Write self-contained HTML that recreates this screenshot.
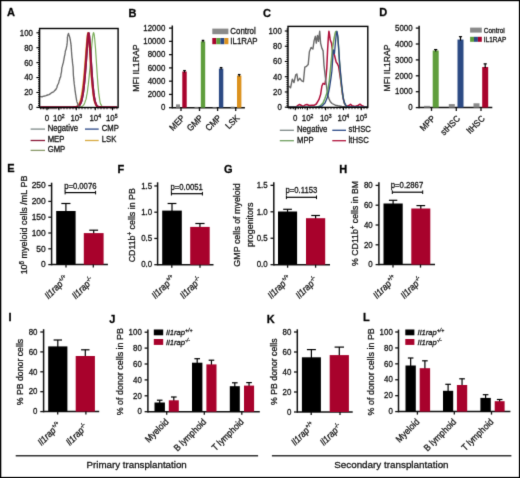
<!DOCTYPE html>
<html><head><meta charset="utf-8"><title>Figure</title>
<style>html,body{margin:0;padding:0;background:#fff;width:520px;height:478px;overflow:hidden;font-family:"Liberation Sans", sans-serif;}svg{display:block;}</style>
</head><body>
<svg width="520" height="478" viewBox="0 0 520 478" font-family='"Liberation Sans", sans-serif'>
<style>text{stroke:#111;stroke-width:0.28px;paint-order:stroke;}</style>
<defs><filter id="bl" x="0" y="0" width="520" height="478" filterUnits="userSpaceOnUse" color-interpolation-filters="sRGB"><feConvolveMatrix order="3" kernelMatrix="0.01134 0.08382 0.01134 0.08382 0.61935 0.08382 0.01134 0.08382 0.01134" edgeMode="duplicate" preserveAlpha="false"/></filter></defs>
<g filter="url(#bl)">
<rect x="0" y="0" width="520" height="478" fill="#fff"/>
<rect x="0" y="0" width="520" height="478" fill="#fff"/>
<text x="0" y="0" font-size="11" text-anchor="start" font-weight="bold" font-style="normal" fill="#000" transform="translate(7,16.4) scale(1,1)">A</text>
<polyline points="40.3,107.25 40.7,107.25 41.1,107.25 41.5,107.25 41.9,107.25 42.3,107.25 42.7,107.25 43.1,107.25 43.5,107.25 43.9,107.25 44.3,107.25 44.7,107.25 45.1,107.25 45.5,107.25 45.9,107.25 46.3,107.25 46.7,107.25 47.1,107.25 47.5,107.25 47.9,107.25 48.3,107.25 48.7,107.25 49.1,107.25 49.5,107.25 49.9,107.25 50.3,107.25 50.7,107.25 51.1,107.25 51.5,107.25 51.9,107.25 52.3,107.25 52.7,107.25 53.1,107.25 53.5,107.25 53.9,107.25 54.3,107.25 54.7,107.25 55.1,107.25 55.5,107.25 55.9,107.25 56.3,107.25 56.7,107.25 57.1,107.25 57.5,107.25 57.9,107.25 58.3,107.25 58.7,107.25 59.1,107.25 59.5,107.25 59.9,107.25 60.3,107.25 60.7,107.25 61.1,107.25 61.5,107.25 61.9,107.25 62.3,107.25 62.7,107.25 63.1,107.25 63.5,107.25 63.9,107.25 64.3,107.25 64.7,107.25 65.1,107.25 65.5,107.25 65.9,107.25 66.3,107.25 66.7,107.25 67.1,107.25 67.5,107.25 67.9,107.25 68.3,107.25 68.7,107.25 69.1,107.25 69.5,107.25 69.9,107.25 70.3,107.25 70.7,107.25 71.1,107.25 71.5,107.25 71.9,107.25 72.3,107.25 72.7,107.25 73.1,107.25 73.5,107.25 73.9,107.25 74.3,107.25 74.7,107.25 75.1,107.24 75.5,107.24 75.9,107.24 76.3,107.24 76.7,107.23 77.1,107.22 77.5,107.21 77.9,107.2 78.3,107.18 78.7,107.16 79.1,107.13 79.5,107.08 79.9,107.03 80.3,106.96 80.7,106.87 81.1,106.75 81.5,106.6 81.9,106.41 82.3,106.17 82.7,105.86 83.1,105.48 83.5,105.02 83.9,104.68 84.3,103.71 84.7,103.02 85.1,101.79 85.5,100.56 85.9,99.63 86.3,97.99 86.7,95.3 87.1,93.57 87.5,91.02 87.9,87.43 88.3,84.65 88.7,80.72 89.1,77.11 89.5,72.71 89.9,68.63 90.3,63.46 90.7,58.37 91.1,53.76 91.5,48.73 91.9,44.2 92.3,40.55 92.7,36.37 93.1,33.93 93.5,32.65 93.9,33.37 94.3,35.39 94.7,39.03 95.1,43.74 95.5,48.31 95.9,54.56 96.3,60.55 96.7,66.67 97.1,72.9 97.5,78.44 97.9,84.12 98.3,88.38 98.7,92.68 99.1,95.59 99.5,98.39 99.9,101.29 100.3,102.98 100.7,104.23 101.1,104.54 101.5,105.68 101.9,106.19 102.3,106.55 102.7,106.8 103.1,106.96 103.5,107.07 103.9,107.14 104.3,107.18 104.7,107.21 105.1,107.23 105.5,107.24 105.9,107.24 106.3,107.25 106.7,107.25 107.1,107.25 107.5,107.25 107.9,107.25 108.3,107.25 108.7,107.25 109.1,107.25 109.5,107.25 109.9,107.25 110.3,107.25 110.7,107.25 111.1,107.25 111.5,107.25 111.9,107.25 112.3,107.25 112.7,107.25 113.1,107.25 113.5,107.25 113.9,107.25 114.3,107.25 114.7,107.25 115.1,107.25 115.5,107.25 115.9,107.25 116.3,107.25 116.7,107.25 117.1,107.25" fill="none" stroke="#7cae5c" stroke-width="1.2" stroke-linejoin="round" stroke-opacity="1"/>
<polyline points="40.3,107.25 40.7,107.25 41.1,107.25 41.5,107.25 41.9,107.25 42.3,107.25 42.7,107.25 43.1,107.25 43.5,107.25 43.9,107.25 44.3,107.25 44.7,107.25 45.1,107.25 45.5,107.25 45.9,107.25 46.3,107.25 46.7,107.25 47.1,107.25 47.5,107.25 47.9,107.25 48.3,107.25 48.7,107.25 49.1,107.25 49.5,107.25 49.9,107.25 50.3,107.25 50.7,107.25 51.1,107.25 51.5,107.25 51.9,107.25 52.3,107.25 52.7,107.25 53.1,107.25 53.5,107.25 53.9,107.25 54.3,107.25 54.7,107.25 55.1,107.25 55.5,107.25 55.9,107.25 56.3,107.25 56.7,107.25 57.1,107.25 57.5,107.25 57.9,107.25 58.3,107.25 58.7,107.25 59.1,107.25 59.5,107.25 59.9,107.25 60.3,107.25 60.7,107.25 61.1,107.25 61.5,107.25 61.9,107.25 62.3,107.25 62.7,107.25 63.1,107.25 63.5,107.25 63.9,107.25 64.3,107.25 64.7,107.25 65.1,107.25 65.5,107.25 65.9,107.25 66.3,107.25 66.7,107.25 67.1,107.25 67.5,107.25 67.9,107.25 68.3,107.25 68.7,107.25 69.1,107.25 69.5,107.24 69.9,107.24 70.3,107.24 70.7,107.24 71.1,107.23 71.5,107.22 71.9,107.21 72.3,107.2 72.7,107.19 73.1,107.17 73.5,107.14 73.9,107.1 74.3,107.06 74.7,107 75.1,106.92 75.5,106.82 75.9,106.7 76.3,106.54 76.7,106.34 77.1,106.09 77.5,105.78 77.9,105.4 78.3,104.99 78.7,104.24 79.1,103.84 79.5,102.81 79.9,101.9 80.3,100.73 80.7,99.09 81.1,97.42 81.5,95.18 81.9,93.12 82.3,90.31 82.7,87.44 83.1,84.01 83.5,80.62 83.9,77.03 84.3,72.01 84.7,67.2 85.1,62.28 85.5,57.43 85.9,52.08 86.3,47.4 86.7,41.99 87.1,37.89 87.5,34.51 87.9,32.65 88.3,34.29 88.7,38.03 89.1,43.02 89.5,47.91 89.9,53.83 90.3,60.83 90.7,66.29 91.1,72.47 91.5,78.11 91.9,82.89 92.3,86.82 92.7,90.53 93.1,94.52 93.5,96.74 93.9,99.51 94.3,100.75 94.7,102.58 95.1,103.27 95.5,104.1 95.9,105.24 96.3,105.78 96.7,106.18 97.1,106.49 97.5,106.71 97.9,106.87 98.3,106.99 98.7,107.07 99.1,107.13 99.5,107.17 99.9,107.19 100.3,107.21 100.7,107.23 101.1,107.23 101.5,107.24 101.9,107.24 102.3,107.25 102.7,107.25 103.1,107.25 103.5,107.25 103.9,107.25 104.3,107.25 104.7,107.25 105.1,107.25 105.5,107.25 105.9,107.25 106.3,107.25 106.7,107.25 107.1,107.25 107.5,107.25 107.9,107.25 108.3,107.25 108.7,107.25 109.1,107.25 109.5,107.25 109.9,107.25 110.3,107.25 110.7,107.25 111.1,107.25 111.5,107.25 111.9,107.25 112.3,107.25 112.7,107.25 113.1,107.25 113.5,107.25 113.9,107.25 114.3,107.25 114.7,107.25 115.1,107.25 115.5,107.25 115.9,107.25 116.3,107.25 116.7,107.25 117.1,107.25" fill="none" stroke="#dd9a30" stroke-width="1.5" stroke-linejoin="round" stroke-opacity="1"/>
<polyline points="40.3,107.25 40.7,107.25 41.1,107.25 41.5,107.25 41.9,107.25 42.3,107.25 42.7,107.25 43.1,107.25 43.5,107.25 43.9,107.25 44.3,107.25 44.7,107.25 45.1,107.25 45.5,107.25 45.9,107.25 46.3,107.25 46.7,107.25 47.1,107.25 47.5,107.25 47.9,107.25 48.3,107.25 48.7,107.25 49.1,107.25 49.5,107.25 49.9,107.25 50.3,107.25 50.7,107.25 51.1,107.25 51.5,107.25 51.9,107.25 52.3,107.25 52.7,107.25 53.1,107.25 53.5,107.25 53.9,107.25 54.3,107.25 54.7,107.25 55.1,107.25 55.5,107.25 55.9,107.25 56.3,107.25 56.7,107.25 57.1,107.25 57.5,107.25 57.9,107.25 58.3,107.25 58.7,107.25 59.1,107.25 59.5,107.25 59.9,107.25 60.3,107.25 60.7,107.25 61.1,107.25 61.5,107.25 61.9,107.25 62.3,107.25 62.7,107.25 63.1,107.25 63.5,107.25 63.9,107.25 64.3,107.25 64.7,107.25 65.1,107.25 65.5,107.25 65.9,107.25 66.3,107.25 66.7,107.25 67.1,107.25 67.5,107.25 67.9,107.25 68.3,107.25 68.7,107.25 69.1,107.25 69.5,107.25 69.9,107.25 70.3,107.25 70.7,107.25 71.1,107.25 71.5,107.25 71.9,107.24 72.3,107.24 72.7,107.24 73.1,107.23 73.5,107.23 73.9,107.22 74.3,107.2 74.7,107.19 75.1,107.16 75.5,107.13 75.9,107.09 76.3,107.04 76.7,106.97 77.1,106.88 77.5,106.76 77.9,106.61 78.3,106.41 78.7,106.16 79.1,105.84 79.5,105.43 79.9,104.92 80.3,103.86 80.7,103.7 81.1,102.97 81.5,101.35 81.9,100.48 82.3,98.68 82.7,96.53 83.1,94.05 83.5,91.79 83.9,88.82 84.3,84.58 84.7,81.15 85.1,76.21 85.5,71.5 85.9,66.84 86.3,61.35 86.7,55.71 87.1,49.99 87.5,44.6 87.9,39.66 88.3,35.47 88.7,32.9 89.1,33.67 89.5,36.47 89.9,41.44 90.3,47 90.7,52.77 91.1,59.43 91.5,65.56 91.9,70.9 92.3,76.84 92.7,81.86 93.1,86.83 93.5,90.39 93.9,93.59 94.3,96.92 94.7,98.73 95.1,100.63 95.5,102.67 95.9,103.38 96.3,104.48 96.7,105.18 97.1,105.74 97.5,106.16 97.9,106.47 98.3,106.7 98.7,106.86 99.1,106.98 99.5,107.07 99.9,107.12 100.3,107.17 100.7,107.19 101.1,107.21 101.5,107.23 101.9,107.23 102.3,107.24 102.7,107.24 103.1,107.25 103.5,107.25 103.9,107.25 104.3,107.25 104.7,107.25 105.1,107.25 105.5,107.25 105.9,107.25 106.3,107.25 106.7,107.25 107.1,107.25 107.5,107.25 107.9,107.25 108.3,107.25 108.7,107.25 109.1,107.25 109.5,107.25 109.9,107.25 110.3,107.25 110.7,107.25 111.1,107.25 111.5,107.25 111.9,107.25 112.3,107.25 112.7,107.25 113.1,107.25 113.5,107.25 113.9,107.25 114.3,107.25 114.7,107.25 115.1,107.25 115.5,107.25 115.9,107.25 116.3,107.25 116.7,107.25 117.1,107.25" fill="none" stroke="#2d3f80" stroke-width="1.5" stroke-linejoin="round" stroke-opacity="1"/>
<polyline points="40.3,107.25 40.7,107.25 41.1,107.25 41.5,107.25 41.9,107.25 42.3,107.25 42.7,107.25 43.1,107.25 43.5,107.25 43.9,107.25 44.3,107.25 44.7,107.25 45.1,107.25 45.5,107.25 45.9,107.25 46.3,107.25 46.7,107.25 47.1,107.25 47.5,107.25 47.9,107.25 48.3,107.25 48.7,107.25 49.1,107.25 49.5,107.25 49.9,107.25 50.3,107.25 50.7,107.25 51.1,107.25 51.5,107.25 51.9,107.25 52.3,107.25 52.7,107.25 53.1,107.25 53.5,107.25 53.9,107.25 54.3,107.25 54.7,107.25 55.1,107.25 55.5,107.25 55.9,107.25 56.3,107.25 56.7,107.25 57.1,107.25 57.5,107.25 57.9,107.25 58.3,107.25 58.7,107.25 59.1,107.25 59.5,107.25 59.9,107.25 60.3,107.25 60.7,107.25 61.1,107.25 61.5,107.25 61.9,107.25 62.3,107.25 62.7,107.25 63.1,107.25 63.5,107.25 63.9,107.25 64.3,107.25 64.7,107.25 65.1,107.25 65.5,107.25 65.9,107.25 66.3,107.25 66.7,107.25 67.1,107.25 67.5,107.25 67.9,107.25 68.3,107.25 68.7,107.25 69.1,107.25 69.5,107.25 69.9,107.25 70.3,107.25 70.7,107.25 71.1,107.25 71.5,107.24 71.9,107.24 72.3,107.24 72.7,107.23 73.1,107.23 73.5,107.22 73.9,107.2 74.3,107.19 74.7,107.16 75.1,107.13 75.5,107.09 75.9,107.04 76.3,106.97 76.7,106.88 77.1,106.76 77.5,106.61 77.9,106.42 78.3,106.17 78.7,105.86 79.1,105.46 79.5,104.81 79.9,104.49 80.3,103.42 80.7,102.48 81.1,102 81.5,100.62 81.9,98.46 82.3,96.3 82.7,94.71 83.1,91.93 83.5,88.82 83.9,85.66 84.3,81.8 84.7,77.59 85.1,72.88 85.5,67.65 85.9,62.59 86.3,57 86.7,51.07 87.1,46.29 87.5,40.74 87.9,36.25 88.3,33.36 88.7,33.16 89.1,36.09 89.5,40.45 89.9,45.23 90.3,51.66 90.7,57.92 91.1,63.91 91.5,69.69 91.9,75.88 92.3,80.85 92.7,85.47 93.1,89.08 93.5,92.93 93.9,95.51 94.3,98.59 94.7,100.45 95.1,101.79 95.5,102.87 95.9,104.27 96.3,105.01 96.7,105.61 97.1,106.06 97.5,106.4 97.9,106.65 98.3,106.83 98.7,106.96 99.1,107.05 99.5,107.11 99.9,107.16 100.3,107.19 100.7,107.21 101.1,107.22 101.5,107.23 101.9,107.24 102.3,107.24 102.7,107.25 103.1,107.25 103.5,107.25 103.9,107.25 104.3,107.25 104.7,107.25 105.1,107.25 105.5,107.25 105.9,107.25 106.3,107.25 106.7,107.25 107.1,107.25 107.5,107.25 107.9,107.25 108.3,107.25 108.7,107.25 109.1,107.25 109.5,107.25 109.9,107.25 110.3,107.25 110.7,107.25 111.1,107.25 111.5,107.25 111.9,107.25 112.3,107.25 112.7,107.25 113.1,107.25 113.5,107.25 113.9,107.25 114.3,107.25 114.7,107.25 115.1,107.25 115.5,107.25 115.9,107.25 116.3,107.25 116.7,107.25 117.1,107.25" fill="none" stroke="#a0103a" stroke-width="2.2" stroke-linejoin="round" stroke-opacity="1"/>
<polyline points="40.2,97 41,96.5 42,97 43,96.3 44.5,96 46,95.6 47.5,95 49,94.6 50.5,93.7 51.25,92.91 52,92.5 53,92.2 54,91.5 54.7,90.28 55.4,90 56.1,89 56.9,87.5 57.25,85.78 57.6,85 58.1,84.04 58.6,83 58.85,81.98 59.1,80.76 59.35,80.38 59.6,79.5 60.1,77.74 60.6,77 60.77,75.93 60.93,74.53 61.1,73.55 61.27,72.92 61.43,72.36 61.6,71 61.67,69.66 61.75,68.85 61.83,68.37 61.9,67.3 62.23,66.74 62.55,65.28 62.88,64.04 63.2,63.1 63.4,62.57 63.6,60.5 63.8,60.34 64,58.9 64.22,57.64 64.45,56.46 64.67,55.4 64.9,54.8 65.03,53.46 65.17,52.88 65.3,51.4 65.65,50.2 66,49.7 66.3,48.1 66.53,47.06 66.77,45.99 67,44.7 67.1,43.51 67.2,42.65 67.3,41.07 67.4,40.5 67.4,38.92 67.4,37.98 67.4,37.2 67.7,36.15 68,34.7 68.5,33.4 68.9,34.7 69.3,35.87 69.7,37.2 69.93,38.1 70.17,39.49 70.4,40.5 70.55,41.5 70.7,42.38 70.85,43.97 71,44.7 71.08,45.92 71.16,46.42 71.24,47.78 71.32,48.73 71.4,49.7 71.47,51.1 71.53,51.92 71.6,52.42 71.67,54.16 71.73,54.2 71.8,55.6 71.9,56.48 72,57.82 72.1,58.12 72.2,59.45 72.3,59.93 72.4,61.4 72.52,62.57 72.63,63.66 72.75,64.43 72.87,65.75 72.98,66.11 73.1,67.3 73.14,68.5 73.17,69.38 73.21,70.35 73.25,71.2 73.29,72.61 73.33,73.71 73.36,74.18 73.4,75.2 73.49,76.3 73.58,76.56 73.67,78.18 73.76,79.04 73.85,80.34 73.94,81.07 74.03,81.4 74.12,82.43 74.21,83.67 74.3,84.4 74.41,84.79 74.53,86.18 74.64,86.77 74.75,87.63 74.86,88.48 74.97,90.17 75.09,90.38 75.2,91.7 75.35,92.36 75.5,93.45 75.65,94.91 75.8,94.97 75.95,96.31 76.1,97.3 76.28,98.27 76.46,99.56 76.64,100.41 76.82,101.38 77,101.9 77.33,102.72 77.67,103.94 78,105.1 78.9,106.3 80,107" fill="none" stroke="#6a6a6a" stroke-width="1.35" stroke-linejoin="round" stroke-opacity="1"/>
<rect x="39.6" y="28.5" width="78.5" height="79" fill="none" stroke="#000" stroke-width="1.4"/>
<line x1="38" y1="107.4" x2="39.6" y2="107.4" stroke="#000" stroke-width="0.9"/>
<line x1="38" y1="105.54" x2="39.6" y2="105.54" stroke="#000" stroke-width="0.9"/>
<line x1="38" y1="103.67" x2="39.6" y2="103.67" stroke="#000" stroke-width="0.9"/>
<line x1="38" y1="101.81" x2="39.6" y2="101.81" stroke="#000" stroke-width="0.9"/>
<line x1="38" y1="99.94" x2="39.6" y2="99.94" stroke="#000" stroke-width="0.9"/>
<line x1="38" y1="98.08" x2="39.6" y2="98.08" stroke="#000" stroke-width="0.9"/>
<line x1="38" y1="96.21" x2="39.6" y2="96.21" stroke="#000" stroke-width="0.9"/>
<line x1="38" y1="94.34" x2="39.6" y2="94.34" stroke="#000" stroke-width="0.9"/>
<line x1="38" y1="92.48" x2="39.6" y2="92.48" stroke="#000" stroke-width="0.9"/>
<line x1="38" y1="90.62" x2="39.6" y2="90.62" stroke="#000" stroke-width="0.9"/>
<line x1="38" y1="88.75" x2="39.6" y2="88.75" stroke="#000" stroke-width="0.9"/>
<line x1="38" y1="86.89" x2="39.6" y2="86.89" stroke="#000" stroke-width="0.9"/>
<line x1="38" y1="85.02" x2="39.6" y2="85.02" stroke="#000" stroke-width="0.9"/>
<line x1="38" y1="83.16" x2="39.6" y2="83.16" stroke="#000" stroke-width="0.9"/>
<line x1="38" y1="81.29" x2="39.6" y2="81.29" stroke="#000" stroke-width="0.9"/>
<line x1="38" y1="79.43" x2="39.6" y2="79.43" stroke="#000" stroke-width="0.9"/>
<line x1="38" y1="77.56" x2="39.6" y2="77.56" stroke="#000" stroke-width="0.9"/>
<line x1="38" y1="75.7" x2="39.6" y2="75.7" stroke="#000" stroke-width="0.9"/>
<line x1="38" y1="73.83" x2="39.6" y2="73.83" stroke="#000" stroke-width="0.9"/>
<line x1="38" y1="71.97" x2="39.6" y2="71.97" stroke="#000" stroke-width="0.9"/>
<line x1="38" y1="70.1" x2="39.6" y2="70.1" stroke="#000" stroke-width="0.9"/>
<line x1="38" y1="68.24" x2="39.6" y2="68.24" stroke="#000" stroke-width="0.9"/>
<line x1="38" y1="66.37" x2="39.6" y2="66.37" stroke="#000" stroke-width="0.9"/>
<line x1="38" y1="64.5" x2="39.6" y2="64.5" stroke="#000" stroke-width="0.9"/>
<line x1="38" y1="62.64" x2="39.6" y2="62.64" stroke="#000" stroke-width="0.9"/>
<line x1="38" y1="60.78" x2="39.6" y2="60.78" stroke="#000" stroke-width="0.9"/>
<line x1="38" y1="58.91" x2="39.6" y2="58.91" stroke="#000" stroke-width="0.9"/>
<line x1="38" y1="57.05" x2="39.6" y2="57.05" stroke="#000" stroke-width="0.9"/>
<line x1="38" y1="55.18" x2="39.6" y2="55.18" stroke="#000" stroke-width="0.9"/>
<line x1="38" y1="53.32" x2="39.6" y2="53.32" stroke="#000" stroke-width="0.9"/>
<line x1="38" y1="51.45" x2="39.6" y2="51.45" stroke="#000" stroke-width="0.9"/>
<line x1="38" y1="49.59" x2="39.6" y2="49.59" stroke="#000" stroke-width="0.9"/>
<line x1="38" y1="47.72" x2="39.6" y2="47.72" stroke="#000" stroke-width="0.9"/>
<line x1="38" y1="45.86" x2="39.6" y2="45.86" stroke="#000" stroke-width="0.9"/>
<line x1="38" y1="43.99" x2="39.6" y2="43.99" stroke="#000" stroke-width="0.9"/>
<line x1="38" y1="42.12" x2="39.6" y2="42.12" stroke="#000" stroke-width="0.9"/>
<line x1="38" y1="40.26" x2="39.6" y2="40.26" stroke="#000" stroke-width="0.9"/>
<line x1="38" y1="38.4" x2="39.6" y2="38.4" stroke="#000" stroke-width="0.9"/>
<line x1="38" y1="36.53" x2="39.6" y2="36.53" stroke="#000" stroke-width="0.9"/>
<line x1="38" y1="34.67" x2="39.6" y2="34.67" stroke="#000" stroke-width="0.9"/>
<line x1="38" y1="32.8" x2="39.6" y2="32.8" stroke="#000" stroke-width="0.9"/>
<line x1="38" y1="30.94" x2="39.6" y2="30.94" stroke="#000" stroke-width="0.9"/>
<line x1="36.4" y1="107.4" x2="39.6" y2="107.4" stroke="#000" stroke-width="1.1"/>
<text x="0" y="0" font-size="8.6" text-anchor="end" font-weight="normal" font-style="normal" fill="#111" transform="translate(33,110.3) scale(0.92,1)">0</text>
<line x1="36.4" y1="92.48" x2="39.6" y2="92.48" stroke="#000" stroke-width="1.1"/>
<text x="0" y="0" font-size="8.6" text-anchor="end" font-weight="normal" font-style="normal" fill="#111" transform="translate(33,95.38) scale(0.92,1)">20</text>
<line x1="36.4" y1="77.56" x2="39.6" y2="77.56" stroke="#000" stroke-width="1.1"/>
<text x="0" y="0" font-size="8.6" text-anchor="end" font-weight="normal" font-style="normal" fill="#111" transform="translate(33,80.46) scale(0.92,1)">40</text>
<line x1="36.4" y1="62.64" x2="39.6" y2="62.64" stroke="#000" stroke-width="1.1"/>
<text x="0" y="0" font-size="8.6" text-anchor="end" font-weight="normal" font-style="normal" fill="#111" transform="translate(33,65.54) scale(0.92,1)">60</text>
<line x1="36.4" y1="47.72" x2="39.6" y2="47.72" stroke="#000" stroke-width="1.1"/>
<text x="0" y="0" font-size="8.6" text-anchor="end" font-weight="normal" font-style="normal" fill="#111" transform="translate(33,50.62) scale(0.92,1)">80</text>
<line x1="36.4" y1="32.8" x2="39.6" y2="32.8" stroke="#000" stroke-width="1.1"/>
<text x="0" y="0" font-size="8.6" text-anchor="end" font-weight="normal" font-style="normal" fill="#111" transform="translate(33,35.7) scale(0.92,1)">100</text>
<line x1="40.5" y1="107.5" x2="40.5" y2="109.3" stroke="#000" stroke-width="0.8"/>
<line x1="42" y1="107.5" x2="42" y2="109.3" stroke="#000" stroke-width="0.8"/>
<line x1="43.5" y1="107.5" x2="43.5" y2="109.3" stroke="#000" stroke-width="0.8"/>
<line x1="45" y1="107.5" x2="45" y2="109.3" stroke="#000" stroke-width="0.8"/>
<line x1="47" y1="107.5" x2="47" y2="109.3" stroke="#000" stroke-width="0.8"/>
<line x1="48.5" y1="107.5" x2="48.5" y2="109.3" stroke="#000" stroke-width="0.8"/>
<line x1="50" y1="107.5" x2="50" y2="109.3" stroke="#000" stroke-width="0.8"/>
<line x1="52" y1="107.5" x2="52" y2="109.3" stroke="#000" stroke-width="0.8"/>
<line x1="54" y1="107.5" x2="54" y2="109.3" stroke="#000" stroke-width="0.8"/>
<line x1="56" y1="107.5" x2="56" y2="109.3" stroke="#000" stroke-width="0.8"/>
<line x1="58.5" y1="107.5" x2="58.5" y2="109.3" stroke="#000" stroke-width="0.8"/>
<line x1="61" y1="107.5" x2="61" y2="109.3" stroke="#000" stroke-width="0.8"/>
<line x1="64" y1="107.5" x2="64" y2="109.3" stroke="#000" stroke-width="0.8"/>
<line x1="67" y1="107.5" x2="67" y2="109.3" stroke="#000" stroke-width="0.8"/>
<line x1="70" y1="107.5" x2="70" y2="109.3" stroke="#000" stroke-width="0.8"/>
<line x1="73" y1="107.5" x2="73" y2="109.3" stroke="#000" stroke-width="0.8"/>
<line x1="76" y1="107.5" x2="76" y2="109.3" stroke="#000" stroke-width="0.8"/>
<line x1="79" y1="107.5" x2="79" y2="109.3" stroke="#000" stroke-width="0.8"/>
<line x1="82" y1="107.5" x2="82" y2="109.3" stroke="#000" stroke-width="0.8"/>
<line x1="85" y1="107.5" x2="85" y2="109.3" stroke="#000" stroke-width="0.8"/>
<line x1="88" y1="107.5" x2="88" y2="109.3" stroke="#000" stroke-width="0.8"/>
<line x1="91" y1="107.5" x2="91" y2="109.3" stroke="#000" stroke-width="0.8"/>
<line x1="95" y1="107.5" x2="95" y2="109.3" stroke="#000" stroke-width="0.8"/>
<line x1="98" y1="107.5" x2="98" y2="109.3" stroke="#000" stroke-width="0.8"/>
<line x1="101" y1="107.5" x2="101" y2="109.3" stroke="#000" stroke-width="0.8"/>
<line x1="104" y1="107.5" x2="104" y2="109.3" stroke="#000" stroke-width="0.8"/>
<line x1="107" y1="107.5" x2="107" y2="109.3" stroke="#000" stroke-width="0.8"/>
<line x1="111" y1="107.5" x2="111" y2="109.3" stroke="#000" stroke-width="0.8"/>
<line x1="114" y1="107.5" x2="114" y2="109.3" stroke="#000" stroke-width="0.8"/>
<line x1="117" y1="107.5" x2="117" y2="109.3" stroke="#000" stroke-width="0.8"/>
<line x1="47" y1="107.5" x2="47" y2="110.3" stroke="#000" stroke-width="1.1"/>
<line x1="58.9" y1="107.5" x2="58.9" y2="110.3" stroke="#000" stroke-width="1.1"/>
<line x1="76.3" y1="107.5" x2="76.3" y2="110.3" stroke="#000" stroke-width="1.1"/>
<line x1="95.3" y1="107.5" x2="95.3" y2="110.3" stroke="#000" stroke-width="1.1"/>
<line x1="112.5" y1="107.5" x2="112.5" y2="110.3" stroke="#000" stroke-width="1.1"/>
<text x="0" y="0" font-size="8.6" text-anchor="middle" font-weight="normal" font-style="normal" fill="#111" transform="translate(47,120.5) scale(0.92,1)">0</text>
<text x="0" y="0" font-size="8.6" text-anchor="middle" fill="#111" transform="translate(58.9,120.5) scale(0.92,1)">10<tspan font-size="5.59" dy="-3">2</tspan></text>
<text x="0" y="0" font-size="8.6" text-anchor="middle" fill="#111" transform="translate(76.3,120.5) scale(0.92,1)">10<tspan font-size="5.59" dy="-3">3</tspan></text>
<text x="0" y="0" font-size="8.6" text-anchor="middle" fill="#111" transform="translate(95.2,120.5) scale(0.92,1)">10<tspan font-size="5.59" dy="-3">4</tspan></text>
<text x="0" y="0" font-size="8.6" text-anchor="middle" fill="#111" transform="translate(111.8,120.5) scale(0.92,1)">10<tspan font-size="5.59" dy="-3">5</tspan></text>
<line x1="30.6" y1="129.1" x2="45" y2="129.1" stroke="#7f8a88" stroke-width="1.3"/>
<text x="0" y="0" font-size="8.38" text-anchor="start" font-weight="normal" font-style="normal" fill="#111" transform="translate(47.7,131.3) scale(0.92,1)">Negative</text>
<line x1="85" y1="129.1" x2="98.7" y2="129.1" stroke="#2d4a88" stroke-width="1.3"/>
<text x="0" y="0" font-size="8.38" text-anchor="start" font-weight="normal" font-style="normal" fill="#111" transform="translate(101.8,131.3) scale(0.92,1)">CMP</text>
<line x1="30.6" y1="140.5" x2="45" y2="140.5" stroke="#8a1838" stroke-width="1.3"/>
<text x="0" y="0" font-size="8.38" text-anchor="start" font-weight="normal" font-style="normal" fill="#111" transform="translate(47.7,142.4) scale(0.92,1)">MEP</text>
<line x1="85" y1="140.5" x2="98.7" y2="140.5" stroke="#d8aa40" stroke-width="1.3"/>
<text x="0" y="0" font-size="8.38" text-anchor="start" font-weight="normal" font-style="normal" fill="#111" transform="translate(101.8,142.4) scale(0.92,1)">LSK</text>
<line x1="30.6" y1="150.4" x2="45" y2="150.4" stroke="#8a9a6a" stroke-width="1.3"/>
<text x="0" y="0" font-size="8.38" text-anchor="start" font-weight="normal" font-style="normal" fill="#111" transform="translate(47.7,152.3) scale(0.92,1)">GMP</text>
<text x="0" y="0" font-size="11" text-anchor="start" font-weight="bold" font-style="normal" fill="#000" transform="translate(128.4,17.1) scale(1,1)">B</text>
<line x1="172.3" y1="25.5" x2="172.3" y2="108.4" stroke="#111" stroke-width="1.5"/>
<line x1="172.3" y1="107.7" x2="244.9" y2="107.7" stroke="#111" stroke-width="1.5"/>
<line x1="169" y1="107.7" x2="172.3" y2="107.7" stroke="#111" stroke-width="1.3"/>
<text x="0" y="0" font-size="8.6" text-anchor="end" font-weight="normal" font-style="normal" fill="#111" transform="translate(165.3,110.4) scale(0.92,1)">0</text>
<line x1="169" y1="94.43" x2="172.3" y2="94.43" stroke="#111" stroke-width="1.3"/>
<text x="0" y="0" font-size="8.6" text-anchor="end" font-weight="normal" font-style="normal" fill="#111" transform="translate(165.3,97.13) scale(0.92,1)">2000</text>
<line x1="169" y1="81.17" x2="172.3" y2="81.17" stroke="#111" stroke-width="1.3"/>
<text x="0" y="0" font-size="8.6" text-anchor="end" font-weight="normal" font-style="normal" fill="#111" transform="translate(165.3,83.87) scale(0.92,1)">4000</text>
<line x1="169" y1="67.9" x2="172.3" y2="67.9" stroke="#111" stroke-width="1.3"/>
<text x="0" y="0" font-size="8.6" text-anchor="end" font-weight="normal" font-style="normal" fill="#111" transform="translate(165.3,70.6) scale(0.92,1)">6000</text>
<line x1="169" y1="54.63" x2="172.3" y2="54.63" stroke="#111" stroke-width="1.3"/>
<text x="0" y="0" font-size="8.6" text-anchor="end" font-weight="normal" font-style="normal" fill="#111" transform="translate(165.3,57.33) scale(0.92,1)">8000</text>
<line x1="169" y1="41.37" x2="172.3" y2="41.37" stroke="#111" stroke-width="1.3"/>
<text x="0" y="0" font-size="8.6" text-anchor="end" font-weight="normal" font-style="normal" fill="#111" transform="translate(165.3,44.07) scale(0.92,1)">10000</text>
<line x1="169" y1="28.1" x2="172.3" y2="28.1" stroke="#111" stroke-width="1.3"/>
<text x="0" y="0" font-size="8.6" text-anchor="end" font-weight="normal" font-style="normal" fill="#111" transform="translate(165.3,30.8) scale(0.92,1)">12000</text>
<rect x="176" y="104.38" width="4" height="3.32" fill="#8a8a8a"/>
<rect x="182.3" y="71.55" width="4.4" height="36.15" fill="#a8022c"/>
<line x1="184.5" y1="70.55" x2="184.5" y2="72.55" stroke="#000" stroke-width="1.2"/>
<line x1="183.2" y1="70.55" x2="185.8" y2="70.55" stroke="#000" stroke-width="1.2"/>
<line x1="181" y1="107.7" x2="181" y2="111" stroke="#111" stroke-width="1.3"/>
<rect x="194.5" y="106.9" width="4" height="0.8" fill="#8a8a8a"/>
<rect x="200.8" y="41.37" width="4.4" height="66.33" fill="#5f9e3c"/>
<line x1="203" y1="40.37" x2="203" y2="42.37" stroke="#000" stroke-width="1.2"/>
<line x1="201.7" y1="40.37" x2="204.3" y2="40.37" stroke="#000" stroke-width="1.2"/>
<line x1="199.5" y1="107.7" x2="199.5" y2="111" stroke="#111" stroke-width="1.3"/>
<rect x="212.6" y="107.04" width="4" height="0.66" fill="#8a8a8a"/>
<rect x="218.9" y="68.56" width="4.4" height="39.14" fill="#2c4a84"/>
<line x1="221.1" y1="67.56" x2="221.1" y2="69.56" stroke="#000" stroke-width="1.2"/>
<line x1="219.8" y1="67.56" x2="222.4" y2="67.56" stroke="#000" stroke-width="1.2"/>
<line x1="217.6" y1="107.7" x2="217.6" y2="111" stroke="#111" stroke-width="1.3"/>
<rect x="230.7" y="106.7" width="4" height="1" fill="#8a8a8a"/>
<rect x="237" y="75.53" width="4.4" height="32.17" fill="#dc921e"/>
<line x1="239.2" y1="74.53" x2="239.2" y2="76.53" stroke="#000" stroke-width="1.2"/>
<line x1="237.9" y1="74.53" x2="240.5" y2="74.53" stroke="#000" stroke-width="1.2"/>
<line x1="235.7" y1="107.7" x2="235.7" y2="111" stroke="#111" stroke-width="1.3"/>
<text x="0" y="0" font-size="9.02" text-anchor="end" fill="#111" transform="translate(185.5,118.6) rotate(-45) scale(0.91,1)">MEP</text>
<text x="0" y="0" font-size="9.02" text-anchor="end" fill="#111" transform="translate(203.7,118.6) rotate(-45) scale(0.91,1)">GMP</text>
<text x="0" y="0" font-size="9.02" text-anchor="end" fill="#111" transform="translate(221.9,118.6) rotate(-45) scale(0.91,1)">CMP</text>
<text x="0" y="0" font-size="9.02" text-anchor="end" fill="#111" transform="translate(240,118.6) rotate(-45) scale(0.91,1)">LSK</text>
<text x="0" y="0" font-size="9.4" text-anchor="middle" fill="#111" transform="translate(139.08,68.1) rotate(-90) scale(0.93,1)">MFI IL1RAP</text>
<rect x="212.3" y="28.6" width="16.1" height="5.6" fill="#8a8a8a"/>
<rect x="212.3" y="38" width="4.03" height="6.2" fill="#a8022c"/>
<rect x="216.33" y="38" width="4.03" height="6.2" fill="#5f9e3c"/>
<rect x="220.36" y="38" width="4.03" height="6.2" fill="#2c4a84"/>
<rect x="224.39" y="38" width="4.03" height="6.2" fill="#dc921e"/>
<text x="0" y="0" font-size="8.6" text-anchor="start" font-weight="normal" font-style="normal" fill="#111" transform="translate(230.3,34.2) scale(0.92,1)">Control</text>
<text x="0" y="0" font-size="8.6" text-anchor="start" font-weight="normal" font-style="normal" fill="#111" transform="translate(230.3,44.2) scale(0.92,1)">IL1RAP</text>
<text x="0" y="0" font-size="11" text-anchor="start" font-weight="bold" font-style="normal" fill="#000" transform="translate(263,17.1) scale(1,1)">C</text>
<polyline points="288.6,107 296,107 298,105.3 299.5,104.5 301,105.2 303,106.5 305,105 307,104.5 309,105.5 312,105.2 314,105.3 316.3,104 318.9,99.7 320.6,94.6 321.9,86 323.1,83.4 324.9,84.3 325.9,78 326.8,68 327.6,50 328.3,38 328.9,31.2 329.6,35 330.2,39.8 331.5,43.2 332.7,51.8 334.5,55.2 336.2,62.1 337.4,63.8 338.6,66.5 339.9,75 340.9,82 342.5,94.5 344.2,102.8 345.8,105.6 347,106.2 349,105.5 350.5,104.3 352,105.6 355,106.5 358,105.5 360,104.2 362,105.8 364,106.5 367.3,107" fill="none" stroke="#b0123c" stroke-width="1.5" stroke-linejoin="round" stroke-opacity="1"/>
<polyline points="288.6,86 290.6,87.7 292.3,79.1 294,82.6 295.7,74.9 296.9,74 297.9,80.9 299.7,78.3 301.7,80.9 303.4,81.7 304.8,67.1 306.5,66.3 308.2,64.6 309.4,51.7 311.1,47.4 312.9,49.1 314.1,40.6 315.4,36.3 316.3,43.1 317.5,35.4 318.5,41.4 319.7,31.3 320.6,43.1 321.9,48.3 323.1,50.9 324,65.4 325.2,76 326.2,84 327.6,94.8 329.1,99 330.2,101.6 332,103.5 335.3,105.2 338,105.8 342,106.5 346,107" fill="none" stroke="#6a6a6a" stroke-width="1.4" stroke-linejoin="round" stroke-opacity="1"/>
<polyline points="288.6,107.2 316,107.1 319,106.5 321,105 323,103 325,98.2 327.6,91.3 329.3,81 331,63.8 332.7,46.6 334.5,36.3 335.5,32 336.2,31.3 337.2,34 337.9,38 338.6,48 339.3,60.4 340.9,81 342.6,94.8 344.4,103.4 346.5,106.3 348,107 367.3,107.2" fill="none" stroke="#6aa45a" stroke-width="1.5" stroke-linejoin="round" stroke-opacity="1"/>
<polyline points="330,80 331.5,60 333,44 334.8,34 336,32.5 337.5,37 339,54 340.5,72 342.3,90 344,101 346,106" fill="none" stroke="#b0b050" stroke-width="0.6" stroke-linejoin="round" stroke-opacity="0.6"/>
<polyline points="288.6,107.2 318,107.1 322,106 325,103 327.5,97 329.5,88 331,78 331.9,71 333.3,50 334.5,53.5 335.3,44 336.2,35 337,31.3 337.8,36 338.8,50 339.6,62 340.2,69 341.8,86 343.5,100 345.5,105 347,106.6 367.3,107.2" fill="none" stroke="#2b4580" stroke-width="1.3" stroke-linejoin="round" stroke-opacity="1"/>
<rect x="288" y="26.4" width="79.8" height="81" fill="none" stroke="#000" stroke-width="1.4"/>
<line x1="286.4" y1="107.2" x2="288" y2="107.2" stroke="#000" stroke-width="0.9"/>
<line x1="286.4" y1="105.3" x2="288" y2="105.3" stroke="#000" stroke-width="0.9"/>
<line x1="286.4" y1="103.39" x2="288" y2="103.39" stroke="#000" stroke-width="0.9"/>
<line x1="286.4" y1="101.48" x2="288" y2="101.48" stroke="#000" stroke-width="0.9"/>
<line x1="286.4" y1="99.58" x2="288" y2="99.58" stroke="#000" stroke-width="0.9"/>
<line x1="286.4" y1="97.67" x2="288" y2="97.67" stroke="#000" stroke-width="0.9"/>
<line x1="286.4" y1="95.77" x2="288" y2="95.77" stroke="#000" stroke-width="0.9"/>
<line x1="286.4" y1="93.87" x2="288" y2="93.87" stroke="#000" stroke-width="0.9"/>
<line x1="286.4" y1="91.96" x2="288" y2="91.96" stroke="#000" stroke-width="0.9"/>
<line x1="286.4" y1="90.06" x2="288" y2="90.06" stroke="#000" stroke-width="0.9"/>
<line x1="286.4" y1="88.15" x2="288" y2="88.15" stroke="#000" stroke-width="0.9"/>
<line x1="286.4" y1="86.25" x2="288" y2="86.25" stroke="#000" stroke-width="0.9"/>
<line x1="286.4" y1="84.34" x2="288" y2="84.34" stroke="#000" stroke-width="0.9"/>
<line x1="286.4" y1="82.44" x2="288" y2="82.44" stroke="#000" stroke-width="0.9"/>
<line x1="286.4" y1="80.53" x2="288" y2="80.53" stroke="#000" stroke-width="0.9"/>
<line x1="286.4" y1="78.62" x2="288" y2="78.62" stroke="#000" stroke-width="0.9"/>
<line x1="286.4" y1="76.72" x2="288" y2="76.72" stroke="#000" stroke-width="0.9"/>
<line x1="286.4" y1="74.81" x2="288" y2="74.81" stroke="#000" stroke-width="0.9"/>
<line x1="286.4" y1="72.91" x2="288" y2="72.91" stroke="#000" stroke-width="0.9"/>
<line x1="286.4" y1="71" x2="288" y2="71" stroke="#000" stroke-width="0.9"/>
<line x1="286.4" y1="69.1" x2="288" y2="69.1" stroke="#000" stroke-width="0.9"/>
<line x1="286.4" y1="67.19" x2="288" y2="67.19" stroke="#000" stroke-width="0.9"/>
<line x1="286.4" y1="65.29" x2="288" y2="65.29" stroke="#000" stroke-width="0.9"/>
<line x1="286.4" y1="63.39" x2="288" y2="63.39" stroke="#000" stroke-width="0.9"/>
<line x1="286.4" y1="61.48" x2="288" y2="61.48" stroke="#000" stroke-width="0.9"/>
<line x1="286.4" y1="59.58" x2="288" y2="59.58" stroke="#000" stroke-width="0.9"/>
<line x1="286.4" y1="57.67" x2="288" y2="57.67" stroke="#000" stroke-width="0.9"/>
<line x1="286.4" y1="55.77" x2="288" y2="55.77" stroke="#000" stroke-width="0.9"/>
<line x1="286.4" y1="53.86" x2="288" y2="53.86" stroke="#000" stroke-width="0.9"/>
<line x1="286.4" y1="51.96" x2="288" y2="51.96" stroke="#000" stroke-width="0.9"/>
<line x1="286.4" y1="50.05" x2="288" y2="50.05" stroke="#000" stroke-width="0.9"/>
<line x1="286.4" y1="48.15" x2="288" y2="48.15" stroke="#000" stroke-width="0.9"/>
<line x1="286.4" y1="46.24" x2="288" y2="46.24" stroke="#000" stroke-width="0.9"/>
<line x1="286.4" y1="44.34" x2="288" y2="44.34" stroke="#000" stroke-width="0.9"/>
<line x1="286.4" y1="42.43" x2="288" y2="42.43" stroke="#000" stroke-width="0.9"/>
<line x1="286.4" y1="40.53" x2="288" y2="40.53" stroke="#000" stroke-width="0.9"/>
<line x1="286.4" y1="38.62" x2="288" y2="38.62" stroke="#000" stroke-width="0.9"/>
<line x1="286.4" y1="36.72" x2="288" y2="36.72" stroke="#000" stroke-width="0.9"/>
<line x1="286.4" y1="34.81" x2="288" y2="34.81" stroke="#000" stroke-width="0.9"/>
<line x1="286.4" y1="32.91" x2="288" y2="32.91" stroke="#000" stroke-width="0.9"/>
<line x1="286.4" y1="31" x2="288" y2="31" stroke="#000" stroke-width="0.9"/>
<line x1="286.4" y1="29.09" x2="288" y2="29.09" stroke="#000" stroke-width="0.9"/>
<line x1="284.8" y1="107.2" x2="288" y2="107.2" stroke="#000" stroke-width="1.1"/>
<text x="0" y="0" font-size="8.6" text-anchor="end" font-weight="normal" font-style="normal" fill="#111" transform="translate(281.8,110.1) scale(0.92,1)">0</text>
<line x1="284.8" y1="91.96" x2="288" y2="91.96" stroke="#000" stroke-width="1.1"/>
<text x="0" y="0" font-size="8.6" text-anchor="end" font-weight="normal" font-style="normal" fill="#111" transform="translate(281.8,94.86) scale(0.92,1)">20</text>
<line x1="284.8" y1="76.72" x2="288" y2="76.72" stroke="#000" stroke-width="1.1"/>
<text x="0" y="0" font-size="8.6" text-anchor="end" font-weight="normal" font-style="normal" fill="#111" transform="translate(281.8,79.62) scale(0.92,1)">40</text>
<line x1="284.8" y1="61.48" x2="288" y2="61.48" stroke="#000" stroke-width="1.1"/>
<text x="0" y="0" font-size="8.6" text-anchor="end" font-weight="normal" font-style="normal" fill="#111" transform="translate(281.8,64.38) scale(0.92,1)">60</text>
<line x1="284.8" y1="46.24" x2="288" y2="46.24" stroke="#000" stroke-width="1.1"/>
<text x="0" y="0" font-size="8.6" text-anchor="end" font-weight="normal" font-style="normal" fill="#111" transform="translate(281.8,49.14) scale(0.92,1)">80</text>
<line x1="284.8" y1="31" x2="288" y2="31" stroke="#000" stroke-width="1.1"/>
<text x="0" y="0" font-size="8.6" text-anchor="end" font-weight="normal" font-style="normal" fill="#111" transform="translate(281.8,33.9) scale(0.92,1)">100</text>
<line x1="289" y1="107.4" x2="289" y2="109.2" stroke="#000" stroke-width="0.8"/>
<line x1="290.5" y1="107.4" x2="290.5" y2="109.2" stroke="#000" stroke-width="0.8"/>
<line x1="292" y1="107.4" x2="292" y2="109.2" stroke="#000" stroke-width="0.8"/>
<line x1="293.5" y1="107.4" x2="293.5" y2="109.2" stroke="#000" stroke-width="0.8"/>
<line x1="295.3" y1="107.4" x2="295.3" y2="109.2" stroke="#000" stroke-width="0.8"/>
<line x1="297" y1="107.4" x2="297" y2="109.2" stroke="#000" stroke-width="0.8"/>
<line x1="298.5" y1="107.4" x2="298.5" y2="109.2" stroke="#000" stroke-width="0.8"/>
<line x1="300.5" y1="107.4" x2="300.5" y2="109.2" stroke="#000" stroke-width="0.8"/>
<line x1="302.5" y1="107.4" x2="302.5" y2="109.2" stroke="#000" stroke-width="0.8"/>
<line x1="305" y1="107.4" x2="305" y2="109.2" stroke="#000" stroke-width="0.8"/>
<line x1="307.5" y1="107.4" x2="307.5" y2="109.2" stroke="#000" stroke-width="0.8"/>
<line x1="310" y1="107.4" x2="310" y2="109.2" stroke="#000" stroke-width="0.8"/>
<line x1="313" y1="107.4" x2="313" y2="109.2" stroke="#000" stroke-width="0.8"/>
<line x1="316" y1="107.4" x2="316" y2="109.2" stroke="#000" stroke-width="0.8"/>
<line x1="319" y1="107.4" x2="319" y2="109.2" stroke="#000" stroke-width="0.8"/>
<line x1="322" y1="107.4" x2="322" y2="109.2" stroke="#000" stroke-width="0.8"/>
<line x1="325" y1="107.4" x2="325" y2="109.2" stroke="#000" stroke-width="0.8"/>
<line x1="328" y1="107.4" x2="328" y2="109.2" stroke="#000" stroke-width="0.8"/>
<line x1="331" y1="107.4" x2="331" y2="109.2" stroke="#000" stroke-width="0.8"/>
<line x1="334" y1="107.4" x2="334" y2="109.2" stroke="#000" stroke-width="0.8"/>
<line x1="337" y1="107.4" x2="337" y2="109.2" stroke="#000" stroke-width="0.8"/>
<line x1="340" y1="107.4" x2="340" y2="109.2" stroke="#000" stroke-width="0.8"/>
<line x1="343" y1="107.4" x2="343" y2="109.2" stroke="#000" stroke-width="0.8"/>
<line x1="346" y1="107.4" x2="346" y2="109.2" stroke="#000" stroke-width="0.8"/>
<line x1="349" y1="107.4" x2="349" y2="109.2" stroke="#000" stroke-width="0.8"/>
<line x1="352" y1="107.4" x2="352" y2="109.2" stroke="#000" stroke-width="0.8"/>
<line x1="355" y1="107.4" x2="355" y2="109.2" stroke="#000" stroke-width="0.8"/>
<line x1="358" y1="107.4" x2="358" y2="109.2" stroke="#000" stroke-width="0.8"/>
<line x1="361" y1="107.4" x2="361" y2="109.2" stroke="#000" stroke-width="0.8"/>
<line x1="364" y1="107.4" x2="364" y2="109.2" stroke="#000" stroke-width="0.8"/>
<line x1="367" y1="107.4" x2="367" y2="109.2" stroke="#000" stroke-width="0.8"/>
<line x1="295.3" y1="107.4" x2="295.3" y2="110.2" stroke="#000" stroke-width="1.1"/>
<line x1="307.3" y1="107.4" x2="307.3" y2="110.2" stroke="#000" stroke-width="1.1"/>
<line x1="325.6" y1="107.4" x2="325.6" y2="110.2" stroke="#000" stroke-width="1.1"/>
<line x1="343.5" y1="107.4" x2="343.5" y2="110.2" stroke="#000" stroke-width="1.1"/>
<line x1="361.3" y1="107.4" x2="361.3" y2="110.2" stroke="#000" stroke-width="1.1"/>
<text x="0" y="0" font-size="8.6" text-anchor="middle" font-weight="normal" font-style="normal" fill="#111" transform="translate(295.3,120.6) scale(0.92,1)">0</text>
<text x="0" y="0" font-size="8.6" text-anchor="middle" fill="#111" transform="translate(307.6,120.6) scale(0.92,1)">10<tspan font-size="5.59" dy="-3">2</tspan></text>
<text x="0" y="0" font-size="8.6" text-anchor="middle" fill="#111" transform="translate(325.8,120.6) scale(0.92,1)">10<tspan font-size="5.59" dy="-3">3</tspan></text>
<text x="0" y="0" font-size="8.6" text-anchor="middle" fill="#111" transform="translate(343.4,120.6) scale(0.92,1)">10<tspan font-size="5.59" dy="-3">4</tspan></text>
<text x="0" y="0" font-size="8.6" text-anchor="middle" fill="#111" transform="translate(361.3,120.6) scale(0.92,1)">10<tspan font-size="5.59" dy="-3">5</tspan></text>
<line x1="279.8" y1="130.3" x2="293.9" y2="130.3" stroke="#7f8a88" stroke-width="1.3"/>
<text x="0" y="0" font-size="8.38" text-anchor="start" font-weight="normal" font-style="normal" fill="#111" transform="translate(297,132.1) scale(0.92,1)">Negative</text>
<line x1="332.3" y1="130.3" x2="346" y2="130.3" stroke="#2d4a88" stroke-width="1.3"/>
<text x="0" y="0" font-size="8.38" text-anchor="start" font-weight="normal" font-style="normal" fill="#111" transform="translate(348.6,132.1) scale(0.92,1)">stHSC</text>
<line x1="279.8" y1="140.7" x2="293.9" y2="140.7" stroke="#70a060" stroke-width="1.3"/>
<text x="0" y="0" font-size="8.38" text-anchor="start" font-weight="normal" font-style="normal" fill="#111" transform="translate(297,142.5) scale(0.92,1)">MPP</text>
<line x1="332.3" y1="140.7" x2="346" y2="140.7" stroke="#b0123c" stroke-width="1.3"/>
<text x="0" y="0" font-size="8.38" text-anchor="start" font-weight="normal" font-style="normal" fill="#111" transform="translate(348.6,142.5) scale(0.92,1)">ltHSC</text>
<text x="0" y="0" font-size="11" text-anchor="start" font-weight="bold" font-style="normal" fill="#000" transform="translate(379.3,15.7) scale(1,1)">D</text>
<line x1="419.1" y1="25.8" x2="419.1" y2="108.3" stroke="#111" stroke-width="1.5"/>
<line x1="419.1" y1="107.6" x2="492.3" y2="107.6" stroke="#111" stroke-width="1.5"/>
<line x1="415.8" y1="107.6" x2="419.1" y2="107.6" stroke="#111" stroke-width="1.3"/>
<text x="0" y="0" font-size="8.6" text-anchor="end" font-weight="normal" font-style="normal" fill="#111" transform="translate(412.6,110.3) scale(0.92,1)">0</text>
<line x1="415.8" y1="91.7" x2="419.1" y2="91.7" stroke="#111" stroke-width="1.3"/>
<text x="0" y="0" font-size="8.6" text-anchor="end" font-weight="normal" font-style="normal" fill="#111" transform="translate(412.6,94.4) scale(0.92,1)">1000</text>
<line x1="415.8" y1="75.8" x2="419.1" y2="75.8" stroke="#111" stroke-width="1.3"/>
<text x="0" y="0" font-size="8.6" text-anchor="end" font-weight="normal" font-style="normal" fill="#111" transform="translate(412.6,78.5) scale(0.92,1)">2000</text>
<line x1="415.8" y1="59.9" x2="419.1" y2="59.9" stroke="#111" stroke-width="1.3"/>
<text x="0" y="0" font-size="8.6" text-anchor="end" font-weight="normal" font-style="normal" fill="#111" transform="translate(412.6,62.6) scale(0.92,1)">3000</text>
<line x1="415.8" y1="44" x2="419.1" y2="44" stroke="#111" stroke-width="1.3"/>
<text x="0" y="0" font-size="8.6" text-anchor="end" font-weight="normal" font-style="normal" fill="#111" transform="translate(412.6,46.7) scale(0.92,1)">4000</text>
<line x1="415.8" y1="28.1" x2="419.1" y2="28.1" stroke="#111" stroke-width="1.3"/>
<text x="0" y="0" font-size="8.6" text-anchor="end" font-weight="normal" font-style="normal" fill="#111" transform="translate(412.6,30.8) scale(0.92,1)">5000</text>
<rect x="424" y="105.85" width="6" height="1.75" fill="#8a8a8a"/>
<rect x="432.7" y="50.52" width="6" height="57.08" fill="#5f9e3c"/>
<line x1="435.7" y1="49.56" x2="435.7" y2="51.52" stroke="#000" stroke-width="1.2"/>
<line x1="434.1" y1="49.56" x2="437.3" y2="49.56" stroke="#000" stroke-width="1.2"/>
<line x1="431.5" y1="107.6" x2="431.5" y2="110.9" stroke="#111" stroke-width="1.3"/>
<rect x="448.8" y="104.1" width="6" height="3.5" fill="#8a8a8a"/>
<rect x="457.5" y="39.55" width="6" height="68.05" fill="#2c4a84"/>
<line x1="460.5" y1="36.69" x2="460.5" y2="40.55" stroke="#000" stroke-width="1.2"/>
<line x1="458.9" y1="36.69" x2="462.1" y2="36.69" stroke="#000" stroke-width="1.2"/>
<line x1="456.3" y1="107.6" x2="456.3" y2="110.9" stroke="#111" stroke-width="1.3"/>
<rect x="473.5" y="103.31" width="6" height="4.29" fill="#8a8a8a"/>
<rect x="482.2" y="67.05" width="6" height="40.55" fill="#a8022c"/>
<line x1="485.2" y1="63.87" x2="485.2" y2="68.05" stroke="#000" stroke-width="1.2"/>
<line x1="483.6" y1="63.87" x2="486.8" y2="63.87" stroke="#000" stroke-width="1.2"/>
<line x1="481" y1="107.6" x2="481" y2="110.9" stroke="#111" stroke-width="1.3"/>
<text x="0" y="0" font-size="8.91" text-anchor="end" fill="#111" transform="translate(435.8,119.2) rotate(-45) scale(0.91,1)">MPP</text>
<text x="0" y="0" font-size="8.91" text-anchor="end" fill="#111" transform="translate(460.6,119.2) rotate(-45) scale(0.91,1)">stHSC</text>
<text x="0" y="0" font-size="8.91" text-anchor="end" fill="#111" transform="translate(485.3,119.2) rotate(-45) scale(0.91,1)">ltHSC</text>
<text x="0" y="0" font-size="9.29" text-anchor="middle" fill="#111" transform="translate(389.94,67.9) rotate(-90) scale(0.93,1)">MFI IL1RAP</text>
<rect x="470.1" y="27.6" width="11.7" height="5" fill="#8a8a8a"/>
<rect x="470.1" y="36.8" width="3.9" height="5" fill="#5f9e3c"/>
<rect x="474" y="36.8" width="3.9" height="5" fill="#2c4a84"/>
<rect x="477.9" y="36.8" width="3.9" height="5" fill="#a8022c"/>
<text x="0" y="0" font-size="7.09" text-anchor="start" font-weight="normal" font-style="normal" fill="#111" transform="translate(483.8,32.7) scale(0.92,1)">Control</text>
<text x="0" y="0" font-size="7.09" text-anchor="start" font-weight="normal" font-style="normal" fill="#111" transform="translate(483.8,41.9) scale(0.92,1)">IL1RAP</text>
<text x="0" y="0" font-size="11" text-anchor="start" font-weight="bold" font-style="normal" fill="#000" transform="translate(7.3,172.4) scale(1,1)">E</text>
<line x1="51.6" y1="182.7" x2="51.6" y2="265.3" stroke="#111" stroke-width="1.5"/>
<line x1="51.6" y1="264.6" x2="107.9" y2="264.6" stroke="#111" stroke-width="1.5"/>
<line x1="48.3" y1="264.6" x2="51.6" y2="264.6" stroke="#111" stroke-width="1.3"/>
<text x="0" y="0" font-size="8.6" text-anchor="end" font-weight="normal" font-style="normal" fill="#111" transform="translate(45.7,267.3) scale(0.98,1)">0</text>
<line x1="48.3" y1="248.8" x2="51.6" y2="248.8" stroke="#111" stroke-width="1.3"/>
<text x="0" y="0" font-size="8.6" text-anchor="end" font-weight="normal" font-style="normal" fill="#111" transform="translate(45.7,251.5) scale(0.98,1)">50</text>
<line x1="48.3" y1="233" x2="51.6" y2="233" stroke="#111" stroke-width="1.3"/>
<text x="0" y="0" font-size="8.6" text-anchor="end" font-weight="normal" font-style="normal" fill="#111" transform="translate(45.7,235.7) scale(0.98,1)">100</text>
<line x1="48.3" y1="217.2" x2="51.6" y2="217.2" stroke="#111" stroke-width="1.3"/>
<text x="0" y="0" font-size="8.6" text-anchor="end" font-weight="normal" font-style="normal" fill="#111" transform="translate(45.7,219.9) scale(0.98,1)">150</text>
<line x1="48.3" y1="201.4" x2="51.6" y2="201.4" stroke="#111" stroke-width="1.3"/>
<text x="0" y="0" font-size="8.6" text-anchor="end" font-weight="normal" font-style="normal" fill="#111" transform="translate(45.7,204.1) scale(0.98,1)">200</text>
<line x1="48.3" y1="185.6" x2="51.6" y2="185.6" stroke="#111" stroke-width="1.3"/>
<text x="0" y="0" font-size="8.6" text-anchor="end" font-weight="normal" font-style="normal" fill="#111" transform="translate(45.7,188.3) scale(0.98,1)">250</text>
<line x1="65.9" y1="203.5" x2="65.9" y2="212" stroke="#000" stroke-width="1.2"/>
<line x1="61.35" y1="203.5" x2="70.45" y2="203.5" stroke="#000" stroke-width="1.2"/>
<rect x="56.2" y="211" width="19.4" height="53.6" fill="#000"/>
<line x1="93.7" y1="230.2" x2="93.7" y2="234.1" stroke="#000" stroke-width="1.2"/>
<line x1="89.3" y1="230.2" x2="98.1" y2="230.2" stroke="#000" stroke-width="1.2"/>
<rect x="83.8" y="233.1" width="19.8" height="31.5" fill="#a8022c"/>
<line x1="66" y1="264.6" x2="66" y2="267.6" stroke="#111" stroke-width="1.3"/>
<line x1="93.3" y1="264.6" x2="93.3" y2="267.6" stroke="#111" stroke-width="1.3"/>
<line x1="65.1" y1="192.6" x2="95.6" y2="192.6" stroke="#000" stroke-width="1.2"/>
<line x1="65.1" y1="190.8" x2="65.1" y2="194.4" stroke="#000" stroke-width="1"/>
<line x1="95.6" y1="190.8" x2="95.6" y2="194.4" stroke="#000" stroke-width="1"/>
<text x="0" y="0" font-size="8.38" text-anchor="middle" font-weight="normal" font-style="normal" fill="#111" transform="translate(80.3,189.2) scale(0.92,1)">p=0.0076</text>
<text x="0" y="0" font-size="9.66" text-anchor="start" fill="#111" font-style="italic" transform="translate(48.5,299.6) rotate(-45) scale(0.87,1)">Il1rap<tspan font-size="5.99" dy="-3.6">+/+</tspan></text>
<text x="0" y="0" font-size="9.66" text-anchor="start" fill="#111" font-style="italic" transform="translate(75.8,299.6) rotate(-45) scale(0.87,1)">Il1rap<tspan font-size="5.99" dy="-3.6">-/-</tspan></text>
<text x="0" y="0" font-size="9.64" text-anchor="middle" fill="#111" transform="translate(27.12,225) rotate(-90) scale(0.93,1)">10<tspan font-size="6.8" dy="-3.5">6</tspan><tspan dy="3.5"> myeloid cells /mL PB</tspan></text>
<text x="0" y="0" font-size="11" text-anchor="start" font-weight="bold" font-style="normal" fill="#000" transform="translate(117.6,173) scale(1,1)">F</text>
<line x1="157.6" y1="182.3" x2="157.6" y2="265.4" stroke="#111" stroke-width="1.5"/>
<line x1="157.6" y1="264.7" x2="213.5" y2="264.7" stroke="#111" stroke-width="1.5"/>
<line x1="154.3" y1="264.7" x2="157.6" y2="264.7" stroke="#111" stroke-width="1.3"/>
<text x="0" y="0" font-size="8.6" text-anchor="end" font-weight="normal" font-style="normal" fill="#111" transform="translate(152.2,267.4) scale(0.92,1)">0.0</text>
<line x1="154.3" y1="238.45" x2="157.6" y2="238.45" stroke="#111" stroke-width="1.3"/>
<text x="0" y="0" font-size="8.6" text-anchor="end" font-weight="normal" font-style="normal" fill="#111" transform="translate(152.2,241.15) scale(0.92,1)">0.5</text>
<line x1="154.3" y1="212.2" x2="157.6" y2="212.2" stroke="#111" stroke-width="1.3"/>
<text x="0" y="0" font-size="8.6" text-anchor="end" font-weight="normal" font-style="normal" fill="#111" transform="translate(152.2,214.9) scale(0.92,1)">1.0</text>
<line x1="154.3" y1="185.95" x2="157.6" y2="185.95" stroke="#111" stroke-width="1.3"/>
<text x="0" y="0" font-size="8.6" text-anchor="end" font-weight="normal" font-style="normal" fill="#111" transform="translate(152.2,188.65) scale(0.92,1)">1.5</text>
<line x1="172" y1="203.5" x2="172" y2="211.6" stroke="#000" stroke-width="1.2"/>
<line x1="167.6" y1="203.5" x2="176.4" y2="203.5" stroke="#000" stroke-width="1.2"/>
<rect x="162.2" y="210.6" width="19.6" height="54.1" fill="#000"/>
<line x1="199.95" y1="223.5" x2="199.95" y2="227.9" stroke="#000" stroke-width="1.2"/>
<line x1="195.35" y1="223.5" x2="204.55" y2="223.5" stroke="#000" stroke-width="1.2"/>
<rect x="190.2" y="226.9" width="19.5" height="37.8" fill="#a8022c"/>
<line x1="171.8" y1="264.7" x2="171.8" y2="267.7" stroke="#111" stroke-width="1.3"/>
<line x1="200" y1="264.7" x2="200" y2="267.7" stroke="#111" stroke-width="1.3"/>
<line x1="171.4" y1="193.7" x2="202.4" y2="193.7" stroke="#000" stroke-width="1.2"/>
<line x1="171.4" y1="191.9" x2="171.4" y2="195.5" stroke="#000" stroke-width="1"/>
<line x1="202.4" y1="191.9" x2="202.4" y2="195.5" stroke="#000" stroke-width="1"/>
<text x="0" y="0" font-size="8.38" text-anchor="middle" font-weight="normal" font-style="normal" fill="#111" transform="translate(186.6,189.8) scale(0.92,1)">p=0.0051</text>
<text x="0" y="0" font-size="9.66" text-anchor="start" fill="#111" font-style="italic" transform="translate(155.6,299.2) rotate(-45) scale(0.87,1)">Il1rap<tspan font-size="5.99" dy="-3.6">+/+</tspan></text>
<text x="0" y="0" font-size="9.66" text-anchor="start" fill="#111" font-style="italic" transform="translate(183.8,299.2) rotate(-45) scale(0.87,1)">Il1rap<tspan font-size="5.99" dy="-3.6">-/-</tspan></text>
<text x="0" y="0" font-size="9.5" text-anchor="middle" fill="#111" transform="translate(135.37,225.25) rotate(-90) scale(0.93,1)">CD11b<tspan font-size="6.7" dy="-3.5">+</tspan><tspan dy="3.5"> cells in PB</tspan></text>
<text x="0" y="0" font-size="11" text-anchor="start" font-weight="bold" font-style="normal" fill="#000" transform="translate(224,172.8) scale(1,1)">G</text>
<line x1="273.8" y1="182.3" x2="273.8" y2="265.4" stroke="#111" stroke-width="1.5"/>
<line x1="273.8" y1="264.7" x2="330" y2="264.7" stroke="#111" stroke-width="1.5"/>
<line x1="270.5" y1="264.7" x2="273.8" y2="264.7" stroke="#111" stroke-width="1.3"/>
<text x="0" y="0" font-size="8.6" text-anchor="end" font-weight="normal" font-style="normal" fill="#111" transform="translate(267.7,267.4) scale(0.92,1)">0.0</text>
<line x1="270.5" y1="238.25" x2="273.8" y2="238.25" stroke="#111" stroke-width="1.3"/>
<text x="0" y="0" font-size="8.6" text-anchor="end" font-weight="normal" font-style="normal" fill="#111" transform="translate(267.7,240.95) scale(0.92,1)">0.5</text>
<line x1="270.5" y1="211.8" x2="273.8" y2="211.8" stroke="#111" stroke-width="1.3"/>
<text x="0" y="0" font-size="8.6" text-anchor="end" font-weight="normal" font-style="normal" fill="#111" transform="translate(267.7,214.5) scale(0.92,1)">1.0</text>
<line x1="270.5" y1="185.35" x2="273.8" y2="185.35" stroke="#111" stroke-width="1.3"/>
<text x="0" y="0" font-size="8.6" text-anchor="end" font-weight="normal" font-style="normal" fill="#111" transform="translate(267.7,188.05) scale(0.92,1)">1.5</text>
<line x1="287.55" y1="209.3" x2="287.55" y2="212.5" stroke="#000" stroke-width="1.2"/>
<line x1="283.2" y1="209.3" x2="291.9" y2="209.3" stroke="#000" stroke-width="1.2"/>
<rect x="278" y="211.5" width="19.1" height="53.2" fill="#000"/>
<line x1="315.6" y1="215.5" x2="315.6" y2="219.2" stroke="#000" stroke-width="1.2"/>
<line x1="311.25" y1="215.5" x2="319.95" y2="215.5" stroke="#000" stroke-width="1.2"/>
<rect x="306" y="218.2" width="19.2" height="46.5" fill="#a8022c"/>
<line x1="287.6" y1="264.7" x2="287.6" y2="267.7" stroke="#111" stroke-width="1.3"/>
<line x1="315.6" y1="264.7" x2="315.6" y2="267.7" stroke="#111" stroke-width="1.3"/>
<line x1="286.4" y1="197.3" x2="316.5" y2="197.3" stroke="#000" stroke-width="1.2"/>
<line x1="286.4" y1="195.5" x2="286.4" y2="199.1" stroke="#000" stroke-width="1"/>
<line x1="316.5" y1="195.5" x2="316.5" y2="199.1" stroke="#000" stroke-width="1"/>
<text x="0" y="0" font-size="8.38" text-anchor="middle" font-weight="normal" font-style="normal" fill="#111" transform="translate(301.4,193.4) scale(0.92,1)">p=0.1153</text>
<text x="0" y="0" font-size="9.66" text-anchor="start" fill="#111" font-style="italic" transform="translate(271.5,299.2) rotate(-45) scale(0.87,1)">Il1rap<tspan font-size="5.99" dy="-3.6">+/+</tspan></text>
<text x="0" y="0" font-size="9.66" text-anchor="start" fill="#111" font-style="italic" transform="translate(299.6,299.2) rotate(-45) scale(0.87,1)">Il1rap<tspan font-size="5.99" dy="-3.6">-/-</tspan></text>
<text x="0" y="0" font-size="9.57" text-anchor="middle" fill="#111" transform="translate(240.24,225) rotate(-90) scale(0.93,1)">GMP cells of myeloid</text>
<text x="0" y="0" font-size="9.57" text-anchor="middle" fill="#111" transform="translate(252.84,224.85) rotate(-90) scale(0.93,1)">progenitors</text>
<text x="0" y="0" font-size="11" text-anchor="start" font-weight="bold" font-style="normal" fill="#000" transform="translate(339.2,172.6) scale(1,1)">H</text>
<line x1="378.9" y1="182.3" x2="378.9" y2="265.3" stroke="#111" stroke-width="1.5"/>
<line x1="378.9" y1="264.6" x2="435" y2="264.6" stroke="#111" stroke-width="1.5"/>
<line x1="375.6" y1="264.6" x2="378.9" y2="264.6" stroke="#111" stroke-width="1.3"/>
<text x="0" y="0" font-size="8.6" text-anchor="end" font-weight="normal" font-style="normal" fill="#111" transform="translate(372.7,267.3) scale(0.92,1)">0</text>
<line x1="375.6" y1="244.8" x2="378.9" y2="244.8" stroke="#111" stroke-width="1.3"/>
<text x="0" y="0" font-size="8.6" text-anchor="end" font-weight="normal" font-style="normal" fill="#111" transform="translate(372.7,247.5) scale(0.92,1)">20</text>
<line x1="375.6" y1="225" x2="378.9" y2="225" stroke="#111" stroke-width="1.3"/>
<text x="0" y="0" font-size="8.6" text-anchor="end" font-weight="normal" font-style="normal" fill="#111" transform="translate(372.7,227.7) scale(0.92,1)">40</text>
<line x1="375.6" y1="205.2" x2="378.9" y2="205.2" stroke="#111" stroke-width="1.3"/>
<text x="0" y="0" font-size="8.6" text-anchor="end" font-weight="normal" font-style="normal" fill="#111" transform="translate(372.7,207.9) scale(0.92,1)">60</text>
<line x1="375.6" y1="185.4" x2="378.9" y2="185.4" stroke="#111" stroke-width="1.3"/>
<text x="0" y="0" font-size="8.6" text-anchor="end" font-weight="normal" font-style="normal" fill="#111" transform="translate(372.7,188.1) scale(0.92,1)">80</text>
<line x1="393.1" y1="200.3" x2="393.1" y2="204.5" stroke="#000" stroke-width="1.2"/>
<line x1="388.9" y1="200.3" x2="397.3" y2="200.3" stroke="#000" stroke-width="1.2"/>
<rect x="383.5" y="203.5" width="19.2" height="61.1" fill="#000"/>
<line x1="420.8" y1="205.6" x2="420.8" y2="209.5" stroke="#000" stroke-width="1.2"/>
<line x1="416.45" y1="205.6" x2="425.15" y2="205.6" stroke="#000" stroke-width="1.2"/>
<rect x="411.3" y="208.5" width="19" height="56.1" fill="#a8022c"/>
<line x1="393" y1="264.6" x2="393" y2="267.6" stroke="#111" stroke-width="1.3"/>
<line x1="420.5" y1="264.6" x2="420.5" y2="267.6" stroke="#111" stroke-width="1.3"/>
<line x1="392.3" y1="192.2" x2="422.7" y2="192.2" stroke="#000" stroke-width="1.2"/>
<line x1="392.3" y1="190.4" x2="392.3" y2="194" stroke="#000" stroke-width="1"/>
<line x1="422.7" y1="190.4" x2="422.7" y2="194" stroke="#000" stroke-width="1"/>
<text x="0" y="0" font-size="8.38" text-anchor="middle" font-weight="normal" font-style="normal" fill="#111" transform="translate(407,188.2) scale(0.92,1)">p=0.2867</text>
<text x="0" y="0" font-size="9.66" text-anchor="start" fill="#111" font-style="italic" transform="translate(377,299.2) rotate(-45) scale(0.87,1)">Il1rap<tspan font-size="5.99" dy="-3.6">+/+</tspan></text>
<text x="0" y="0" font-size="9.66" text-anchor="start" fill="#111" font-style="italic" transform="translate(404.5,299.2) rotate(-45) scale(0.87,1)">Il1rap<tspan font-size="5.99" dy="-3.6">-/-</tspan></text>
<text x="0" y="0" font-size="9.4" text-anchor="middle" fill="#111" transform="translate(358.43,223.45) rotate(-90) scale(0.93,1)">% CD11b<tspan font-size="6.59" dy="-3.5">+</tspan><tspan dy="3.5"> cells in BM</tspan></text>
<text x="0" y="0" font-size="11" text-anchor="start" font-weight="bold" font-style="normal" fill="#000" transform="translate(8.5,321.4) scale(1,1)">I</text>
<line x1="43.6" y1="329.2" x2="43.6" y2="412.3" stroke="#111" stroke-width="1.5"/>
<line x1="43.6" y1="411.6" x2="99.2" y2="411.6" stroke="#111" stroke-width="1.5"/>
<line x1="40.3" y1="411.6" x2="43.6" y2="411.6" stroke="#111" stroke-width="1.3"/>
<text x="0" y="0" font-size="8.6" text-anchor="end" font-weight="normal" font-style="normal" fill="#111" transform="translate(37.5,414.3) scale(0.92,1)">0</text>
<line x1="40.3" y1="391.7" x2="43.6" y2="391.7" stroke="#111" stroke-width="1.3"/>
<text x="0" y="0" font-size="8.6" text-anchor="end" font-weight="normal" font-style="normal" fill="#111" transform="translate(37.5,394.4) scale(0.92,1)">20</text>
<line x1="40.3" y1="371.8" x2="43.6" y2="371.8" stroke="#111" stroke-width="1.3"/>
<text x="0" y="0" font-size="8.6" text-anchor="end" font-weight="normal" font-style="normal" fill="#111" transform="translate(37.5,374.5) scale(0.92,1)">40</text>
<line x1="40.3" y1="351.9" x2="43.6" y2="351.9" stroke="#111" stroke-width="1.3"/>
<text x="0" y="0" font-size="8.6" text-anchor="end" font-weight="normal" font-style="normal" fill="#111" transform="translate(37.5,354.6) scale(0.92,1)">60</text>
<line x1="40.3" y1="332" x2="43.6" y2="332" stroke="#111" stroke-width="1.3"/>
<text x="0" y="0" font-size="8.6" text-anchor="end" font-weight="normal" font-style="normal" fill="#111" transform="translate(37.5,334.7) scale(0.92,1)">80</text>
<line x1="57.8" y1="340" x2="57.8" y2="347.4" stroke="#000" stroke-width="1.2"/>
<line x1="53.6" y1="340" x2="62" y2="340" stroke="#000" stroke-width="1.2"/>
<rect x="48.2" y="346.4" width="19.2" height="65.2" fill="#000"/>
<line x1="85.3" y1="349.8" x2="85.3" y2="357" stroke="#000" stroke-width="1.2"/>
<line x1="81.1" y1="349.8" x2="89.5" y2="349.8" stroke="#000" stroke-width="1.2"/>
<rect x="75.7" y="356" width="19.2" height="55.6" fill="#a8022c"/>
<line x1="57.7" y1="411.6" x2="57.7" y2="414.6" stroke="#111" stroke-width="1.3"/>
<line x1="85.9" y1="411.6" x2="85.9" y2="414.6" stroke="#111" stroke-width="1.3"/>
<text x="0" y="0" font-size="9.66" text-anchor="start" fill="#111" font-style="italic" transform="translate(41.5,446.1) rotate(-45) scale(0.87,1)">Il1rap<tspan font-size="5.99" dy="-3.6">+/+</tspan></text>
<text x="0" y="0" font-size="9.66" text-anchor="start" fill="#111" font-style="italic" transform="translate(69.7,446.1) rotate(-45) scale(0.87,1)">Il1rap<tspan font-size="5.99" dy="-3.6">-/-</tspan></text>
<text x="0" y="0" font-size="9.4" text-anchor="middle" fill="#111" transform="translate(23.03,372.05) rotate(-90) scale(0.93,1)">% PB donor cells</text>
<text x="0" y="0" font-size="11" text-anchor="start" font-weight="bold" font-style="normal" fill="#000" transform="translate(109.2,322.6) scale(1,1)">J</text>
<line x1="147.9" y1="329.6" x2="147.9" y2="412.4" stroke="#111" stroke-width="1.5"/>
<line x1="147.9" y1="411.7" x2="259.8" y2="411.7" stroke="#111" stroke-width="1.5"/>
<line x1="144.6" y1="411.7" x2="147.9" y2="411.7" stroke="#111" stroke-width="1.3"/>
<text x="0" y="0" font-size="8.6" text-anchor="end" font-weight="normal" font-style="normal" fill="#111" transform="translate(141.8,414.4) scale(0.92,1)">0</text>
<line x1="144.6" y1="395.8" x2="147.9" y2="395.8" stroke="#111" stroke-width="1.3"/>
<text x="0" y="0" font-size="8.6" text-anchor="end" font-weight="normal" font-style="normal" fill="#111" transform="translate(141.8,398.5) scale(0.92,1)">20</text>
<line x1="144.6" y1="379.9" x2="147.9" y2="379.9" stroke="#111" stroke-width="1.3"/>
<text x="0" y="0" font-size="8.6" text-anchor="end" font-weight="normal" font-style="normal" fill="#111" transform="translate(141.8,382.6) scale(0.92,1)">40</text>
<line x1="144.6" y1="364" x2="147.9" y2="364" stroke="#111" stroke-width="1.3"/>
<text x="0" y="0" font-size="8.6" text-anchor="end" font-weight="normal" font-style="normal" fill="#111" transform="translate(141.8,366.7) scale(0.92,1)">60</text>
<line x1="144.6" y1="348.1" x2="147.9" y2="348.1" stroke="#111" stroke-width="1.3"/>
<text x="0" y="0" font-size="8.6" text-anchor="end" font-weight="normal" font-style="normal" fill="#111" transform="translate(141.8,350.8) scale(0.92,1)">80</text>
<line x1="144.6" y1="332.2" x2="147.9" y2="332.2" stroke="#111" stroke-width="1.3"/>
<text x="0" y="0" font-size="8.6" text-anchor="end" font-weight="normal" font-style="normal" fill="#111" transform="translate(141.8,334.9) scale(0.92,1)">100</text>
<line x1="159.7" y1="400.2" x2="159.7" y2="403.5" stroke="#000" stroke-width="1.2"/>
<line x1="156.9" y1="400.2" x2="162.5" y2="400.2" stroke="#000" stroke-width="1.2"/>
<rect x="154.5" y="402.5" width="10.4" height="9.2" fill="#000"/>
<line x1="173.8" y1="397" x2="173.8" y2="401.3" stroke="#000" stroke-width="1.2"/>
<line x1="171" y1="397" x2="176.6" y2="397" stroke="#000" stroke-width="1.2"/>
<rect x="168.8" y="400.3" width="10" height="11.4" fill="#a8022c"/>
<line x1="197.2" y1="358.7" x2="197.2" y2="363.7" stroke="#000" stroke-width="1.2"/>
<line x1="194.4" y1="358.7" x2="200" y2="358.7" stroke="#000" stroke-width="1.2"/>
<rect x="192" y="362.7" width="10.4" height="49" fill="#000"/>
<line x1="211.45" y1="360.2" x2="211.45" y2="365.4" stroke="#000" stroke-width="1.2"/>
<line x1="208.65" y1="360.2" x2="214.25" y2="360.2" stroke="#000" stroke-width="1.2"/>
<rect x="206.4" y="364.4" width="10.1" height="47.3" fill="#a8022c"/>
<line x1="234.8" y1="382.8" x2="234.8" y2="387.2" stroke="#000" stroke-width="1.2"/>
<line x1="232" y1="382.8" x2="237.6" y2="382.8" stroke="#000" stroke-width="1.2"/>
<rect x="229.8" y="386.2" width="10" height="25.5" fill="#000"/>
<line x1="249.05" y1="382.6" x2="249.05" y2="386.6" stroke="#000" stroke-width="1.2"/>
<line x1="246.25" y1="382.6" x2="251.85" y2="382.6" stroke="#000" stroke-width="1.2"/>
<rect x="244" y="385.6" width="10.1" height="26.1" fill="#a8022c"/>
<line x1="166.7" y1="411.7" x2="166.7" y2="414.7" stroke="#111" stroke-width="1.3"/>
<line x1="204.3" y1="411.7" x2="204.3" y2="414.7" stroke="#111" stroke-width="1.3"/>
<line x1="241.8" y1="411.7" x2="241.8" y2="414.7" stroke="#111" stroke-width="1.3"/>
<rect x="153.8" y="329.5" width="9.4" height="5.8" fill="#000"/>
<rect x="153.8" y="339" width="9.4" height="5.9" fill="#a8022c"/>
<text x="0" y="0" font-size="7.9" text-anchor="start" fill="#111" font-style="italic" transform="translate(165.9,335.4) scale(0.97,1)">Il1rap<tspan font-size="5.4" dy="-3">+/+</tspan></text>
<text x="0" y="0" font-size="7.9" text-anchor="start" fill="#111" font-style="italic" transform="translate(165.9,345) scale(0.97,1)">Il1rap<tspan font-size="5.4" dy="-3">-/-</tspan></text>
<text x="0" y="0" font-size="9.24" text-anchor="end" fill="#111" transform="translate(169.3,422.4) rotate(-45) scale(0.91,1)">Myeloid</text>
<text x="0" y="0" font-size="9.24" text-anchor="end" fill="#111" transform="translate(206.9,422.4) rotate(-45) scale(0.91,1)">B lymphoid</text>
<text x="0" y="0" font-size="9.24" text-anchor="end" fill="#111" transform="translate(244.4,422.4) rotate(-45) scale(0.91,1)">T lymphoid</text>
<text x="0" y="0" font-size="9.59" text-anchor="middle" fill="#111" transform="translate(123.1,371.7) rotate(-90) scale(0.93,1)">% of donor cells in PB</text>
<text x="0" y="0" font-size="11" text-anchor="start" font-weight="bold" font-style="normal" fill="#000" transform="translate(266.7,322.6) scale(1,1)">K</text>
<line x1="297.3" y1="329.3" x2="297.3" y2="412.7" stroke="#111" stroke-width="1.5"/>
<line x1="297.3" y1="412" x2="352.7" y2="412" stroke="#111" stroke-width="1.5"/>
<line x1="294" y1="412" x2="297.3" y2="412" stroke="#111" stroke-width="1.3"/>
<text x="0" y="0" font-size="8.6" text-anchor="end" font-weight="normal" font-style="normal" fill="#111" transform="translate(291.3,414.7) scale(0.92,1)">0</text>
<line x1="294" y1="392" x2="297.3" y2="392" stroke="#111" stroke-width="1.3"/>
<text x="0" y="0" font-size="8.6" text-anchor="end" font-weight="normal" font-style="normal" fill="#111" transform="translate(291.3,394.7) scale(0.92,1)">20</text>
<line x1="294" y1="372" x2="297.3" y2="372" stroke="#111" stroke-width="1.3"/>
<text x="0" y="0" font-size="8.6" text-anchor="end" font-weight="normal" font-style="normal" fill="#111" transform="translate(291.3,374.7) scale(0.92,1)">40</text>
<line x1="294" y1="352" x2="297.3" y2="352" stroke="#111" stroke-width="1.3"/>
<text x="0" y="0" font-size="8.6" text-anchor="end" font-weight="normal" font-style="normal" fill="#111" transform="translate(291.3,354.7) scale(0.92,1)">60</text>
<line x1="294" y1="332" x2="297.3" y2="332" stroke="#111" stroke-width="1.3"/>
<text x="0" y="0" font-size="8.6" text-anchor="end" font-weight="normal" font-style="normal" fill="#111" transform="translate(291.3,334.7) scale(0.92,1)">80</text>
<line x1="311.4" y1="349.6" x2="311.4" y2="358.3" stroke="#000" stroke-width="1.2"/>
<line x1="306.9" y1="349.6" x2="315.9" y2="349.6" stroke="#000" stroke-width="1.2"/>
<rect x="301.9" y="357.3" width="19" height="54.7" fill="#000"/>
<line x1="339.3" y1="347.1" x2="339.3" y2="356.1" stroke="#000" stroke-width="1.2"/>
<line x1="334.6" y1="347.1" x2="344" y2="347.1" stroke="#000" stroke-width="1.2"/>
<rect x="329.7" y="355.1" width="19.2" height="56.9" fill="#a8022c"/>
<line x1="311.2" y1="412" x2="311.2" y2="415" stroke="#111" stroke-width="1.3"/>
<line x1="340" y1="412" x2="340" y2="415" stroke="#111" stroke-width="1.3"/>
<text x="0" y="0" font-size="9.66" text-anchor="start" fill="#111" font-style="italic" transform="translate(295,446.1) rotate(-45) scale(0.87,1)">Il1rap<tspan font-size="5.99" dy="-3.6">+/+</tspan></text>
<text x="0" y="0" font-size="9.66" text-anchor="start" fill="#111" font-style="italic" transform="translate(323.8,446.1) rotate(-45) scale(0.87,1)">Il1rap<tspan font-size="5.99" dy="-3.6">-/-</tspan></text>
<text x="0" y="0" font-size="9.4" text-anchor="middle" fill="#111" transform="translate(276.83,371.7) rotate(-90) scale(0.93,1)">% PB donor cells</text>
<text x="0" y="0" font-size="11" text-anchor="start" font-weight="bold" font-style="normal" fill="#000" transform="translate(363.1,321.1) scale(1,1)">L</text>
<line x1="398.5" y1="329.6" x2="398.5" y2="412.3" stroke="#111" stroke-width="1.5"/>
<line x1="398.5" y1="411.6" x2="510.4" y2="411.6" stroke="#111" stroke-width="1.5"/>
<line x1="395.2" y1="411.6" x2="398.5" y2="411.6" stroke="#111" stroke-width="1.3"/>
<text x="0" y="0" font-size="8.6" text-anchor="end" font-weight="normal" font-style="normal" fill="#111" transform="translate(392.8,414.3) scale(0.92,1)">0</text>
<line x1="395.2" y1="395.68" x2="398.5" y2="395.68" stroke="#111" stroke-width="1.3"/>
<text x="0" y="0" font-size="8.6" text-anchor="end" font-weight="normal" font-style="normal" fill="#111" transform="translate(392.8,398.38) scale(0.92,1)">20</text>
<line x1="395.2" y1="379.76" x2="398.5" y2="379.76" stroke="#111" stroke-width="1.3"/>
<text x="0" y="0" font-size="8.6" text-anchor="end" font-weight="normal" font-style="normal" fill="#111" transform="translate(392.8,382.46) scale(0.92,1)">40</text>
<line x1="395.2" y1="363.84" x2="398.5" y2="363.84" stroke="#111" stroke-width="1.3"/>
<text x="0" y="0" font-size="8.6" text-anchor="end" font-weight="normal" font-style="normal" fill="#111" transform="translate(392.8,366.54) scale(0.92,1)">60</text>
<line x1="395.2" y1="347.92" x2="398.5" y2="347.92" stroke="#111" stroke-width="1.3"/>
<text x="0" y="0" font-size="8.6" text-anchor="end" font-weight="normal" font-style="normal" fill="#111" transform="translate(392.8,350.62) scale(0.92,1)">80</text>
<line x1="395.2" y1="332" x2="398.5" y2="332" stroke="#111" stroke-width="1.3"/>
<text x="0" y="0" font-size="8.6" text-anchor="end" font-weight="normal" font-style="normal" fill="#111" transform="translate(392.8,334.7) scale(0.92,1)">100</text>
<line x1="410.65" y1="358" x2="410.65" y2="366.5" stroke="#000" stroke-width="1.2"/>
<line x1="407.85" y1="358" x2="413.45" y2="358" stroke="#000" stroke-width="1.2"/>
<rect x="405.5" y="365.5" width="10.3" height="46.1" fill="#000"/>
<line x1="424.9" y1="360.8" x2="424.9" y2="369.2" stroke="#000" stroke-width="1.2"/>
<line x1="422.1" y1="360.8" x2="427.7" y2="360.8" stroke="#000" stroke-width="1.2"/>
<rect x="419.7" y="368.2" width="10.4" height="43.4" fill="#a8022c"/>
<line x1="448.1" y1="384.3" x2="448.1" y2="391.8" stroke="#000" stroke-width="1.2"/>
<line x1="445.3" y1="384.3" x2="450.9" y2="384.3" stroke="#000" stroke-width="1.2"/>
<rect x="443" y="390.8" width="10.2" height="20.8" fill="#000"/>
<line x1="462.05" y1="378.8" x2="462.05" y2="386" stroke="#000" stroke-width="1.2"/>
<line x1="459.25" y1="378.8" x2="464.85" y2="378.8" stroke="#000" stroke-width="1.2"/>
<rect x="456.9" y="385" width="10.3" height="26.6" fill="#a8022c"/>
<line x1="485.6" y1="394.7" x2="485.6" y2="398.9" stroke="#000" stroke-width="1.2"/>
<line x1="482.8" y1="394.7" x2="488.4" y2="394.7" stroke="#000" stroke-width="1.2"/>
<rect x="480.4" y="397.9" width="10.4" height="13.7" fill="#000"/>
<line x1="499.65" y1="399.5" x2="499.65" y2="402.2" stroke="#000" stroke-width="1.2"/>
<line x1="496.85" y1="399.5" x2="502.45" y2="399.5" stroke="#000" stroke-width="1.2"/>
<rect x="494.7" y="401.2" width="9.9" height="10.4" fill="#a8022c"/>
<line x1="417.4" y1="411.6" x2="417.4" y2="414.6" stroke="#111" stroke-width="1.3"/>
<line x1="454.3" y1="411.6" x2="454.3" y2="414.6" stroke="#111" stroke-width="1.3"/>
<line x1="491.5" y1="411.6" x2="491.5" y2="414.6" stroke="#111" stroke-width="1.3"/>
<rect x="405.3" y="329.5" width="9.1" height="5.8" fill="#000"/>
<rect x="405.3" y="339" width="9.1" height="5.9" fill="#a8022c"/>
<text x="0" y="0" font-size="7.9" text-anchor="start" fill="#111" font-style="italic" transform="translate(417.6,335.4) scale(0.97,1)">Il1rap<tspan font-size="5.4" dy="-3">+/+</tspan></text>
<text x="0" y="0" font-size="7.9" text-anchor="start" fill="#111" font-style="italic" transform="translate(417.6,345) scale(0.97,1)">Il1rap<tspan font-size="5.4" dy="-3">-/-</tspan></text>
<text x="0" y="0" font-size="9.24" text-anchor="end" fill="#111" transform="translate(420,422.4) rotate(-45) scale(0.91,1)">Myeloid</text>
<text x="0" y="0" font-size="9.24" text-anchor="end" fill="#111" transform="translate(456.9,422.4) rotate(-45) scale(0.91,1)">B lymphoid</text>
<text x="0" y="0" font-size="9.24" text-anchor="end" fill="#111" transform="translate(494.1,422.4) rotate(-45) scale(0.91,1)">T lymphoid</text>
<text x="0" y="0" font-size="9.59" text-anchor="middle" fill="#111" transform="translate(374.1,371.8) rotate(-90) scale(0.93,1)">% of donor cells in PB</text>
<line x1="15.7" y1="455.7" x2="258.1" y2="455.7" stroke="#333" stroke-width="1.4"/>
<line x1="271.9" y1="455.7" x2="511.4" y2="455.7" stroke="#333" stroke-width="1.4"/>
<text x="0" y="0" font-size="9.75" text-anchor="middle" fill="#111" transform="translate(136.6,467.8)">Primary transplantation</text>
<text x="0" y="0" font-size="9.85" text-anchor="middle" fill="#111" transform="translate(391.4,467.8)">Secondary transplantation</text>
<rect x="0" y="0" width="520" height="1.2" fill="#000"/>
<rect x="0" y="0" width="1.3" height="478" fill="#000"/>
<rect x="518.9" y="0" width="1.1" height="478" fill="#000"/>
<rect x="0" y="476.9" width="520" height="1.1" fill="#000"/>
</g>
</svg>
</body></html>
